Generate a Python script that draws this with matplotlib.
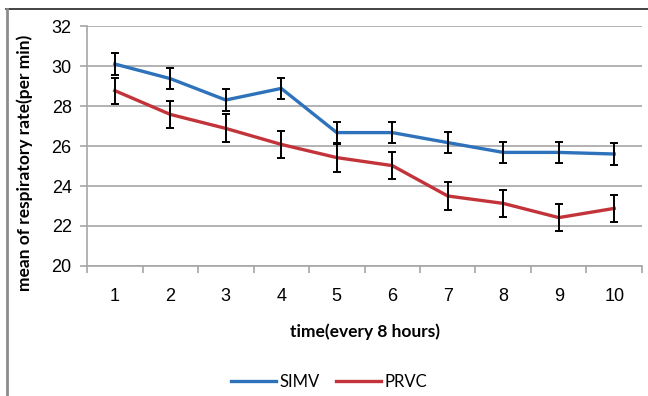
import numpy as np
import matplotlib
matplotlib.use("Agg")
import matplotlib.pyplot as plt
from matplotlib.lines import Line2D

# data
times = [1, 2, 3, 4, 5, 6, 7, 8, 9, 10]
simv = [30.1, 29.37, 28.3, 28.88, 26.67, 26.67, 26.17, 25.68, 25.68, 25.6]
simv_err = [0.53, 0.52, 0.54, 0.52, 0.54, 0.54, 0.53, 0.52, 0.52, 0.53]
prvc = [28.77, 27.58, 26.88, 26.08, 25.42, 25.02, 23.5, 23.13, 22.42, 22.88]
prvc_err = [0.65, 0.69, 0.7, 0.67, 0.7, 0.69, 0.68, 0.69, 0.67, 0.67]

blue = '#2d72bb'
red = '#c2343a'
grey = '#a6a6a6'

fig = plt.figure(figsize=(6.48, 3.96), dpi=100)
ax = fig.add_axes([0.1343, 0.3283, 0.8564, 0.606])

ax.plot(times, simv, color=blue, lw=2.4, label='SIMV', zorder=3)
ax.plot(times, prvc, color=red, lw=2.4, label='PRVC', zorder=3)
ax.errorbar(times, simv, yerr=simv_err, fmt='none', ecolor='black',
            elinewidth=1.4, capsize=2.8, capthick=1.4, zorder=4)
ax.errorbar(times, prvc, yerr=prvc_err, fmt='none', ecolor='black',
            elinewidth=1.4, capsize=2.8, capthick=1.4, zorder=4)

ax.set_xlim(0.5, 10.5)
ax.set_ylim(20, 32)
ax.set_yticks(np.arange(20, 33, 2))
ax.yaxis.grid(True, color=grey, lw=1.2)
ax.set_axisbelow(True)

ax.set_xticks(times)
ax.set_xticklabels([str(t) for t in times])
ax.set_xticks(np.arange(0.5, 11, 1), minor=True)
ax.tick_params(axis='x', which='major', length=0, pad=16, labelsize=13)
ax.tick_params(axis='x', which='minor', length=5, width=1.2, color=grey)
ax.tick_params(axis='y', length=5, width=1.2, color=grey, labelsize=13, pad=6)
for lbl in ax.get_xticklabels() + ax.get_yticklabels():
    lbl.set_family('Liberation Sans')

for s in ['top', 'right']:
    ax.spines[s].set_visible(False)
for s in ['left', 'bottom']:
    ax.spines[s].set_color(grey)
    ax.spines[s].set_linewidth(1.2)

ax.set_xlabel('time(every 8 hours)', fontsize=12.5, fontweight='bold',
              family='Lato', labelpad=13)
ax.set_ylabel('mean of respiratory rate(per min)', fontsize=12.5,
              fontweight='bold', family='Lato')
ax.yaxis.set_label_coords(-0.097, 0.43)

leg = fig.legend(loc='center', bbox_to_anchor=(0.508, 0.035), ncol=2,
                 frameon=False, prop={'family': 'Lato', 'size': 12},
                 handlelength=2.7, handletextpad=0.2, columnspacing=1.0)

# outer frame: dark top line, grey left line
fig.add_artist(Line2D([0.009, 1.0], [0.977, 0.977], color='#222222', lw=1.2,
                      transform=fig.transFigure))
fig.add_artist(Line2D([0.011, 0.011], [0.0, 0.977], color='#8c8c8c', lw=2.0,
                      transform=fig.transFigure))

fig.savefig('out.png', dpi=100)
